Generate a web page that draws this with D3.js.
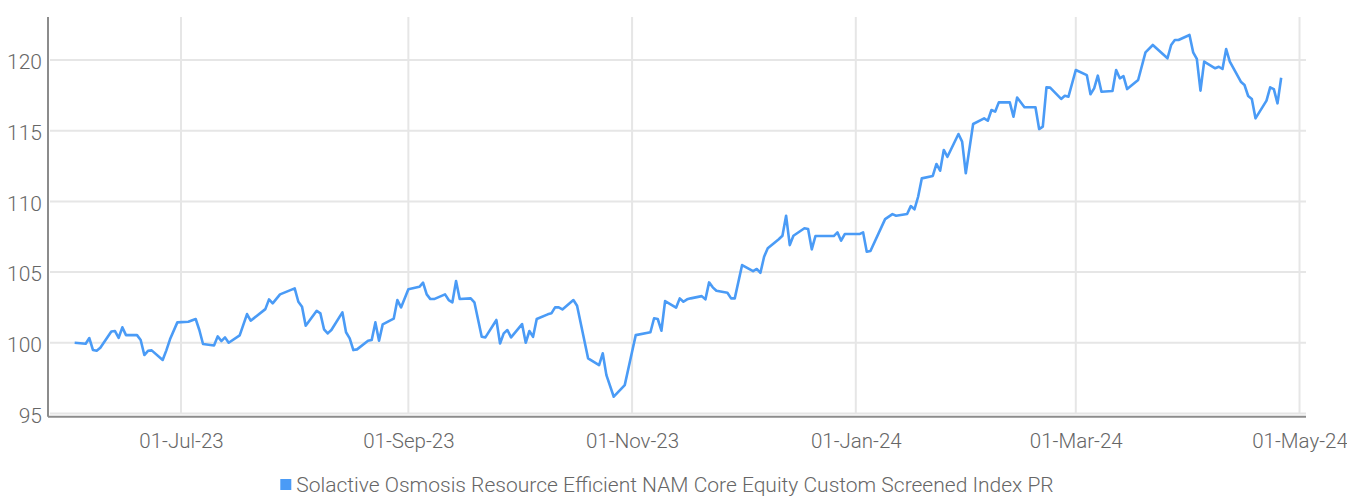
<!DOCTYPE html>
<html>
<head>
<meta charset="utf-8">
<script src="https://cdn.jsdelivr.net/npm/d3@7"></script>
<style>
  body { margin: 0; background: #fff; }
  text { font-family: Roboto, "Noto Sans", sans-serif; font-weight: 300; fill: #666; }
</style>
</head>
<body>
<div id="chart"></div>
<script>
var seriesName = "Solactive Osmosis Resource Efficient NAM Core Equity Custom Screened Index PR";

var dates = [
    "2023-06-02", "2023-06-05", "2023-06-06", "2023-06-07", "2023-06-08", "2023-06-09",
    "2023-06-12", "2023-06-13", "2023-06-14", "2023-06-15", "2023-06-16",
    "2023-06-19", "2023-06-20", "2023-06-21", "2023-06-22", "2023-06-23",
    "2023-06-26", "2023-06-27", "2023-06-28", "2023-06-30",
    "2023-07-03", "2023-07-05", "2023-07-06", "2023-07-07",
    "2023-07-10", "2023-07-11", "2023-07-12", "2023-07-13", "2023-07-14",
    "2023-07-17", "2023-07-19", "2023-07-20", "2023-07-24", "2023-07-25", "2023-07-26", "2023-07-28",
    "2023-08-01", "2023-08-02", "2023-08-03", "2023-08-04",
    "2023-08-07", "2023-08-08", "2023-08-09", "2023-08-10", "2023-08-11",
    "2023-08-14", "2023-08-15", "2023-08-16", "2023-08-17", "2023-08-18",
    "2023-08-21", "2023-08-22", "2023-08-23", "2023-08-24", "2023-08-25",
    "2023-08-28", "2023-08-29", "2023-08-30", "2023-09-01",
    "2023-09-04", "2023-09-05", "2023-09-06", "2023-09-07", "2023-09-08",
    "2023-09-11", "2023-09-12", "2023-09-13", "2023-09-14", "2023-09-15",
    "2023-09-18", "2023-09-19", "2023-09-21", "2023-09-22",
    "2023-09-25", "2023-09-26", "2023-09-27", "2023-09-28", "2023-09-29",
    "2023-10-02", "2023-10-03", "2023-10-04", "2023-10-05", "2023-10-06",
    "2023-10-09", "2023-10-10", "2023-10-11", "2023-10-12", "2023-10-13",
    "2023-10-16", "2023-10-17", "2023-10-20",
    "2023-10-23", "2023-10-24", "2023-10-25", "2023-10-27",
    "2023-10-30", "2023-11-01", "2023-11-02",
    "2023-11-06", "2023-11-07", "2023-11-08", "2023-11-09", "2023-11-10",
    "2023-11-13", "2023-11-14", "2023-11-15", "2023-11-16", "2023-11-17",
    "2023-11-20", "2023-11-21", "2023-11-22", "2023-11-23", "2023-11-24",
    "2023-11-27", "2023-11-28", "2023-11-29", "2023-12-01",
    "2023-12-04", "2023-12-05", "2023-12-06", "2023-12-07", "2023-12-08",
    "2023-12-11", "2023-12-12", "2023-12-13", "2023-12-14", "2023-12-15",
    "2023-12-18", "2023-12-19", "2023-12-20", "2023-12-21",
    "2023-12-26", "2023-12-27", "2023-12-28", "2023-12-29",
    "2024-01-02", "2024-01-03", "2024-01-04", "2024-01-05",
    "2024-01-09", "2024-01-11", "2024-01-12",
    "2024-01-15", "2024-01-16", "2024-01-17", "2024-01-18", "2024-01-19",
    "2024-01-22", "2024-01-23", "2024-01-24", "2024-01-25", "2024-01-26",
    "2024-01-29", "2024-01-30", "2024-01-31", "2024-02-02",
    "2024-02-05", "2024-02-06", "2024-02-07", "2024-02-08", "2024-02-09",
    "2024-02-12", "2024-02-13", "2024-02-14", "2024-02-16",
    "2024-02-19", "2024-02-20", "2024-02-21", "2024-02-22", "2024-02-23",
    "2024-02-26", "2024-02-27", "2024-02-28", "2024-03-01",
    "2024-03-04", "2024-03-05", "2024-03-06", "2024-03-07", "2024-03-08",
    "2024-03-11", "2024-03-12", "2024-03-13", "2024-03-14", "2024-03-15",
    "2024-03-18", "2024-03-20", "2024-03-22",
    "2024-03-26", "2024-03-27", "2024-03-28", "2024-03-29",
    "2024-04-01", "2024-04-02", "2024-04-03", "2024-04-04", "2024-04-05",
    "2024-04-08", "2024-04-09", "2024-04-10", "2024-04-11", "2024-04-12",
    "2024-04-15", "2024-04-16", "2024-04-17", "2024-04-18", "2024-04-19",
    "2024-04-22", "2024-04-23", "2024-04-24", "2024-04-25", "2024-04-26"
];

var values = [
    100.00, 99.93, 100.33, 99.48, 99.43, 99.65,
    100.80, 100.83, 100.35, 101.09, 100.54,
    100.54, 100.19, 99.13, 99.43, 99.46,
    98.78, 99.46, 100.24, 101.44,
    101.49, 101.68, 100.90, 99.91,
    99.81, 100.45, 100.12, 100.38, 100.00,
    100.52, 102.03, 101.56, 102.38, 103.07, 102.79, 103.42,
    103.85, 102.90, 102.55, 101.20,
    102.26, 102.08, 100.95, 100.66, 100.90,
    102.15, 100.74, 100.31, 99.48, 99.53,
    100.14, 100.19, 101.44, 100.14, 101.30,
    101.70, 103.02, 102.50, 103.78,
    103.96, 104.25, 103.42, 103.09, 103.09,
    103.42, 103.02, 102.86, 104.37, 103.09,
    103.14, 102.86, 100.42, 100.38,
    101.61, 99.95, 100.66, 100.90, 100.38,
    101.32, 100.00, 100.83, 100.42, 101.68,
    102.01, 102.08, 102.50, 102.50, 102.36,
    103.02, 102.62, 98.90,
    98.42, 99.25, 97.71, 96.18,
    97.00, 99.36, 100.54,
    100.74, 101.73, 101.68, 100.85, 102.95,
    102.48, 103.14, 102.90, 103.07, 103.14,
    103.30, 103.07, 104.27, 103.92, 103.68,
    103.54, 103.14, 103.14, 105.50,
    105.07, 105.22, 104.95, 106.09, 106.68,
    107.32, 107.57, 108.99, 106.91, 107.57,
    108.10, 108.05, 106.61, 107.55,
    107.55, 107.81, 107.22, 107.69,
    107.69, 107.81, 106.44, 106.49,
    108.75, 109.10, 108.99,
    109.11, 109.67, 109.44, 110.33, 111.63,
    111.80, 112.65, 112.17, 113.64, 113.16,
    114.77, 114.23, 111.99, 115.48,
    115.88, 115.71, 116.47, 116.35, 117.01,
    117.01, 115.99, 117.35, 116.66,
    116.66, 115.12, 115.29, 118.07, 118.05,
    117.25, 117.48, 117.41, 119.30,
    118.94, 117.58, 118.00, 118.90, 117.76,
    117.81, 119.30, 118.71, 118.87, 117.95,
    118.59, 120.55, 121.07,
    120.13, 121.07, 121.42, 121.42,
    121.78, 120.55, 120.08, 117.84, 119.89,
    119.42, 119.53, 119.37, 120.78, 119.89,
    118.47, 118.24, 117.46, 117.25, 115.88,
    117.13, 118.07, 117.95, 116.94, 118.75
];

var yTicks = [95, 100, 105, 110, 115, 120];

var svgWidth = 1347;
var svgHeight = 498;

var lineColor = "#4a9bf6";
var gridColor = "#e6e6e6";
var axisColor = "#8c8c8c";

var plotLeft = 48;
var plotRight = 1306;
var plotTop = 17;
var plotBottom = 413.4;
var axisY = 416.7;

var parseDate = d3.utcParse("%Y-%m-%d");
var data = dates.map(function (d, i) {
    return { date: parseDate(d), value: values[i] };
});

var svg = d3.select("#chart")
    .append("svg")
    .attr("width", svgWidth)
    .attr("height", svgHeight);

var xScale = d3.scaleUtc()
    .domain([new Date(Date.UTC(2023, 4, 25, 17, 30)), new Date(Date.UTC(2024, 4, 2, 18, 30))])
    .range([plotLeft, plotRight]);

var yScale = d3.scaleLinear()
    .domain([95, 123.05])
    .range([plotBottom, plotTop]);

var xTicks = d3.utcMonth.every(2).range(new Date(Date.UTC(2023, 6, 1)), new Date(Date.UTC(2024, 4, 2)));

// grid
svg.append("g")
    .selectAll("line")
    .data(yTicks)
    .enter()
    .append("line")
    .attr("x1", plotLeft + 2)
    .attr("x2", plotRight)
    .attr("y1", d => yScale(d))
    .attr("y2", d => yScale(d))
    .attr("stroke", gridColor)
    .attr("stroke-width", 2);

svg.append("g")
    .selectAll("line")
    .data(xTicks)
    .enter()
    .append("line")
    .attr("x1", d => xScale(d))
    .attr("x2", d => xScale(d))
    .attr("y1", plotTop)
    .attr("y2", plotBottom)
    .attr("stroke", gridColor)
    .attr("stroke-width", 2);

// axes
var bottomAxis = d3.axisBottom(xScale)
    .tickValues(xTicks)
    .tickFormat(d3.utcFormat("%d-%b-%y"))
    .tickSize(0)
    .tickPadding(17);

var leftAxis = d3.axisLeft(yScale)
    .tickValues(yTicks)
    .tickSize(0)
    .tickPadding(6);

var xAxisG = svg.append("g")
    .attr("transform", `translate(0, ${axisY})`)
    .call(bottomAxis);

var yAxisG = svg.append("g")
    .attr("transform", `translate(${plotLeft}, 0)`)
    .call(leftAxis);

xAxisG.select(".domain")
    .attr("d", `M${plotLeft},0H${plotRight}`)
    .attr("stroke", axisColor)
    .attr("stroke-width", 2);

yAxisG.select(".domain")
    .attr("d", `M0,${plotTop}V${axisY}`)
    .attr("stroke", axisColor)
    .attr("stroke-width", 2);

svg.selectAll(".tick text")
    .attr("font-family", "Roboto, sans-serif")
    .attr("font-weight", 300)
    .attr("font-size", "21px")
    .attr("fill", "#666");

xAxisG.selectAll(".tick text").attr("font-size", "20.5px");
yAxisG.selectAll(".tick text").attr("dy", "0.42em");

// series
var line = d3.line()
    .x(d => xScale(d.date))
    .y(d => yScale(d.value));

svg.append("path")
    .datum(data)
    .attr("fill", "none")
    .attr("stroke", lineColor)
    .attr("stroke-width", 2.6)
    .attr("stroke-linejoin", "round")
    .attr("d", line);

// legend
var legend = svg.append("g");

legend.append("rect")
    .attr("x", 0)
    .attr("y", -13)
    .attr("width", 11)
    .attr("height", 11)
    .attr("fill", lineColor);

var legendText = legend.append("text")
    .attr("x", 16)
    .attr("y", 0)
    .attr("font-size", "21px")
    .text(seriesName);

var legendWidth = 16 + legendText.node().getComputedTextLength();
legend.attr("transform", `translate(${667 - legendWidth / 2}, 492)`);
</script>
</body>
</html>
